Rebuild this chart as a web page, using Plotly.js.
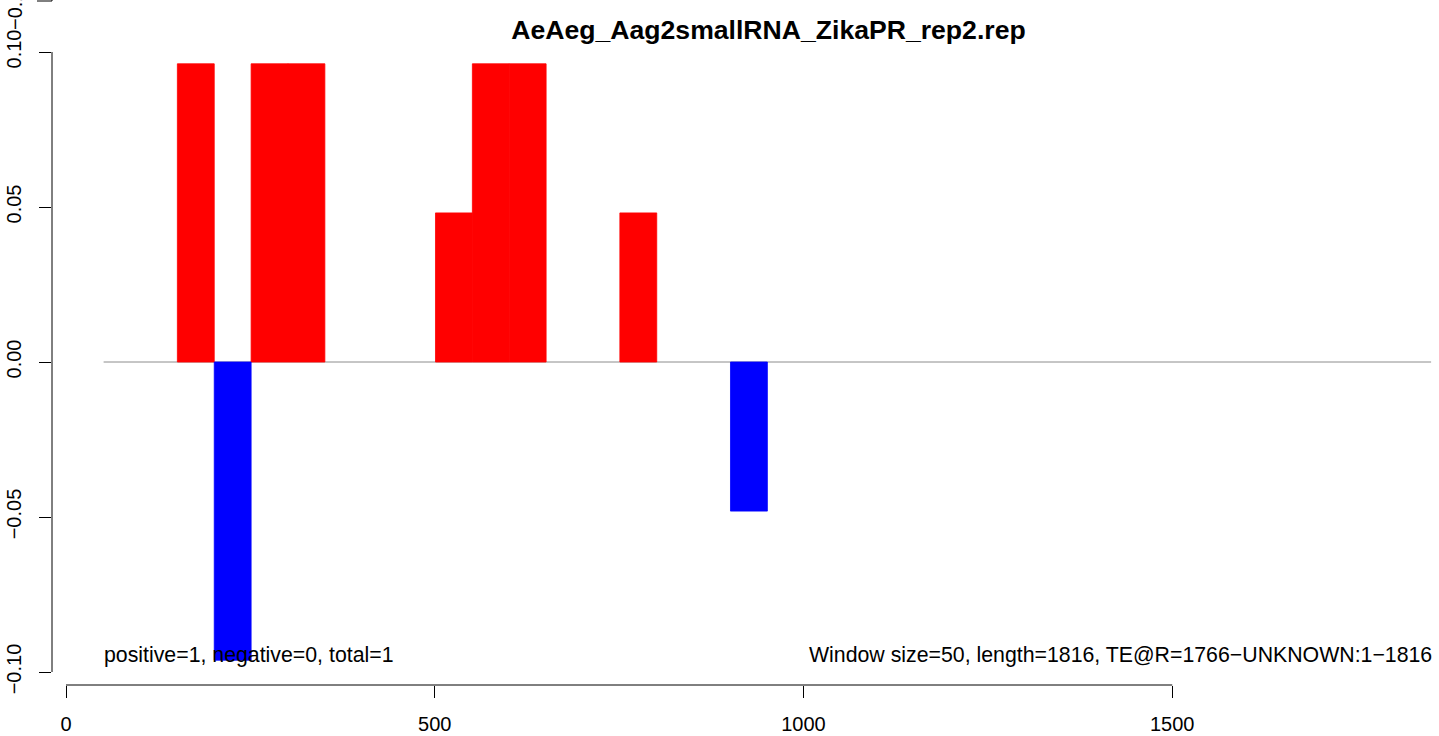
<!DOCTYPE html>
<html>
<head>
<meta charset="utf-8">
<script src="https://cdn.plot.ly/plotly-3.0.1.min.js"></script>
<style>
html, body { margin: 0; padding: 0; overflow: hidden; background: #fff; }
#chart { width: 1439px; height: 736px; }
</style>
</head>
<body>
<div id="chart"></div>
<script>
// ---- data ----
const chartTitle = "AeAeg_Aag2smallRNA_ZikaPR_rep2.rep";
const windowSize = 50;
const seqStart = 51;
const seqEnd = 1851;
const posStarts = [151, 251, 301, 501, 551, 601, 751];
const posValues = [0.0962, 0.0962, 0.0962, 0.0481, 0.0962, 0.0962, 0.0481];
const negStarts = [201, 901];
const negValues = [-0.0962, -0.0481];
const xTickVals = [0, 500, 1000, 1500];
const yTickVals = [-0.10, -0.05, 0.00, 0.05, 0.10];
const leftNote = "positive=1, negative=0, total=1";
const rightNote = "Window size=50, length=1816, TE@R=1766\u2212UNKNOWN:1\u22121816";
const upperPanelTick = "\u22120.10";

// ---- geometry (pixels) ----
const W = 1439, H = 736;
const mL = 52, mR = 0, mT = 38, mB = 51;
const plotW = W - mL - mR, plotH = H - mT - mB;
const pxPerX = 0.7375, x0px = 66;
const xRange = [(mL - x0px) / pxPerX, (W - mR - x0px) / pxPerX];
const yRange = [-0.10419, 0.10452];

const font = "Liberation Sans, Arial, Helvetica, sans-serif";
const noteSize = 21.3;

const traces = [
  {
    type: "bar", x: posStarts, y: posValues, width: windowSize, offset: 0,
    marker: { color: "#FF0000", line: { width: 0.8, color: "#FF0000" } }, hoverinfo: "x+y", showlegend: false
  },
  {
    type: "bar", x: negStarts, y: negValues, width: windowSize, offset: 0,
    marker: { color: "#0000FF", line: { width: 0.8, color: "#0000FF" } }, hoverinfo: "x+y", showlegend: false
  }
];

const tickAxis = {
  ticks: "outside", ticklen: 12, tickwidth: 1, tickcolor: "#000",
  showgrid: false, zeroline: false, showline: false,
  tickfont: { family: font, size: 20, color: "#000" }
};

const layout = {
  width: W, height: H,
  margin: { l: mL, r: mR, t: mT, b: mB, pad: 0 },
  paper_bgcolor: "#fff", plot_bgcolor: "#fff",
  barmode: "overlay",
  showlegend: false,
  title: {
    text: "<b>" + chartTitle + "</b>",
    font: { family: font, size: 26.6, color: "#000" },
    xref: "container", x: 768.5 / W, xanchor: "center",
    yref: "container", y: 1 - 30 / H, yanchor: "middle"
  },
  xaxis: Object.assign({}, tickAxis, {
    range: xRange, tickmode: "array", tickvals: xTickVals,
    ticktext: xTickVals.map(String), ticklabelstandoff: 9
  }),
  yaxis: Object.assign({}, tickAxis, {
    range: yRange, tickmode: "array", tickvals: yTickVals,
    tickformat: ".2f", tickangle: -90, ticklabelstandoff: 10
  }),
  shapes: [
    // zero line
    { type: "line", xref: "x", yref: "y", x0: seqStart, x1: seqEnd, y0: 0, y1: 0,
      line: { color: "#8c8c8c", width: 1 }, layer: "below" },
    // y axis line
    { type: "line", xref: "paper", yref: "y", x0: 0, x1: 0,
      y0: yTickVals[0], y1: yTickVals[yTickVals.length - 1], line: { color: "#000", width: 1 } },
    // x axis line
    { type: "line", xref: "x", yref: "paper", x0: xTickVals[0], x1: xTickVals[xTickVals.length - 1],
      y0: 0, y1: 0, line: { color: "#000", width: 1 } },
    // remnant of upper panel axis
    { type: "line", xref: "paper", yref: "paper", x0: (37 - mL) / plotW, x1: 0,
      y0: (H - mB - 1) / plotH, y1: (H - mB - 1) / plotH, line: { color: "#000", width: 1 } },
    { type: "line", xref: "paper", yref: "paper", x0: 0, x1: 0,
      y0: (H - mB - 1) / plotH, y1: (H - mB + 10) / plotH, line: { color: "#000", width: 1 } }
  ],
  annotations: [
    { text: leftNote, xref: "x", yref: "y", x: seqStart, y: -0.0945, xshift: -2,
      xanchor: "left", yanchor: "middle", showarrow: false,
      font: { family: font, size: noteSize, color: "#000" } },
    { text: rightNote, xref: "x", yref: "y", x: seqEnd, y: -0.0945, xshift: 3,
      xanchor: "right", yanchor: "middle", showarrow: false,
      font: { family: font, size: noteSize, color: "#000" } },
    { text: upperPanelTick, xref: "paper", yref: "paper",
      x: (15 - mL) / plotW, y: (H - mB - 5) / plotH, textangle: -90,
      xanchor: "center", yanchor: "middle", showarrow: false,
      font: { family: font, size: 20, color: "#000" } }
  ]
};

Plotly.newPlot("chart", traces, layout, { displayModeBar: false, staticPlot: true });
</script>
</body>
</html>
